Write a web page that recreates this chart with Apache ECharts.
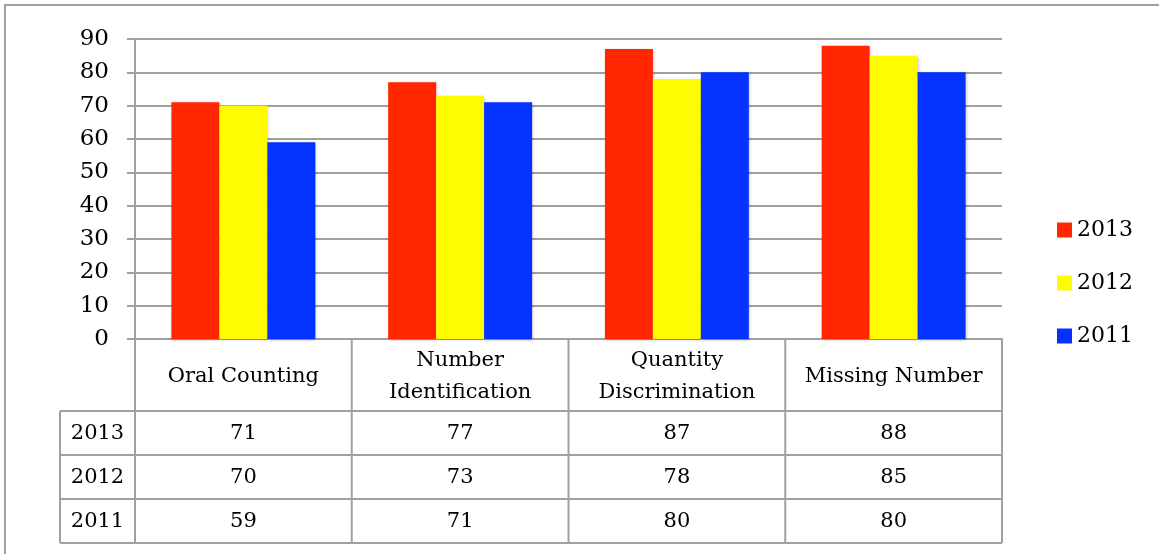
<!DOCTYPE html>
<html><head><meta charset="utf-8">
<script src="https://cdn.jsdelivr.net/npm/echarts@6/dist/echarts.min.js"></script>
<style>html,body{margin:0;padding:0;background:#fff}#c{width:1159px;height:554px}</style>
</head><body><div id="c"></div>
<script>
const categories = ['Oral Counting', 'Number\nIdentification', 'Quantity\nDiscrimination', 'Missing Number'];
const seriesNames = ['2013', '2012', '2011'];
const v2013 = [71, 77, 87, 88];
const v2012 = [70, 73, 78, 85];
const v2011 = [59, 71, 80, 80];
const yTicks = [0, 10, 20, 30, 40, 50, 60, 70, 80, 90];

const colors = ['#FF2600', '#FFFB00', '#0433FF'];
const values = [v2013, v2012, v2011];
const FONT = 'DejaVu Serif';
const FS = 21;
const GRID = {left: 135, right: 157, top: 39, bottom: 215};
const W = 1159, H = 554;
const x0 = GRID.left, x1 = W - GRID.right, yAxis = H - GRID.bottom;
const headerBottom = 411, rowH = 44, labelLeft = 60;
const lineColor = '#A0A0A0';

const chart = echarts.init(document.getElementById('c'), null, {renderer: 'canvas'});

const graphics = [];
function line(xa, ya, xb, yb, w) {
  graphics.push({type: 'line', shape: {x1: xa, y1: ya, x2: xb, y2: yb}, style: {stroke: lineColor, lineWidth: w || 2}, z: 10, silent: true});
}
line(4, 5, W + 10, 5, 2);
line(5, 4, 5, H + 10, 2);
const colW = (x1 - x0) / categories.length;
const tableBottom = headerBottom + rowH * seriesNames.length;
for (let i = 0; i <= categories.length; i++) {
  line(x0 + colW * i, yAxis, x0 + colW * i, tableBottom);
}
line(labelLeft, headerBottom, labelLeft, tableBottom);
for (let r = 0; r <= seriesNames.length; r++) {
  line(labelLeft, headerBottom + rowH * r, x1, headerBottom + rowH * r);
}
seriesNames.forEach((name, r) => {
  const cy = headerBottom + rowH * r + rowH / 2 + 1;
  graphics.push({type: 'text', x: (labelLeft + x0) / 2, y: cy, style: {text: name, font: FS + 'px "' + FONT + '"', fill: '#000', align: 'center', verticalAlign: 'middle'}, z: 11});
  values[r].forEach((v, c) => {
    graphics.push({type: 'text', x: x0 + colW * c + colW / 2, y: cy, style: {text: String(v), font: FS + 'px "' + FONT + '"', fill: '#000', align: 'center', verticalAlign: 'middle'}, z: 11});
  });
});

chart.setOption({
  animation: false,
  textStyle: {fontFamily: FONT},
  grid: GRID,
  legend: {
    orient: 'vertical', left: 1052, top: 214, itemWidth: 15, itemHeight: 15, itemGap: 31,
    icon: 'rect', data: seriesNames,
    textStyle: {fontFamily: FONT, fontSize: 22, lineHeight: 22, color: '#000', padding: [0, 0, 0, 0]}
  },
  xAxis: {
    type: 'category', data: categories,
    axisLine: {show: true, lineStyle: {color: lineColor, width: 2}},
    axisTick: {show: false},
    axisLabel: {fontFamily: FONT, fontSize: FS, color: '#000', lineHeight: 32, margin: 38, verticalAlign: 'middle', interval: 0}
  },
  yAxis: {
    type: 'value', min: 0, max: 90, interval: 10,
    axisLine: {show: true, lineStyle: {color: lineColor, width: 2}},
    axisTick: {show: true, length: 8, lineStyle: {color: lineColor, width: 2}},
    splitLine: {lineStyle: {color: lineColor, width: 2}},
    axisLabel: {fontFamily: FONT, fontSize: 23, color: '#000', margin: 26, formatter: v => yTicks.includes(v) ? String(v) : ''}
  },
  series: seriesNames.map((n, i) => ({
    name: n, type: 'bar', data: values[i], barGap: '0%', barCategoryGap: '33.6%',
    itemStyle: {color: colors[i], shadowColor: 'rgba(0,0,0,0.25)', shadowBlur: 3, shadowOffsetX: 1, shadowOffsetY: 1},
    z: 5
  })),
  graphic: graphics
});
</script></body></html>
